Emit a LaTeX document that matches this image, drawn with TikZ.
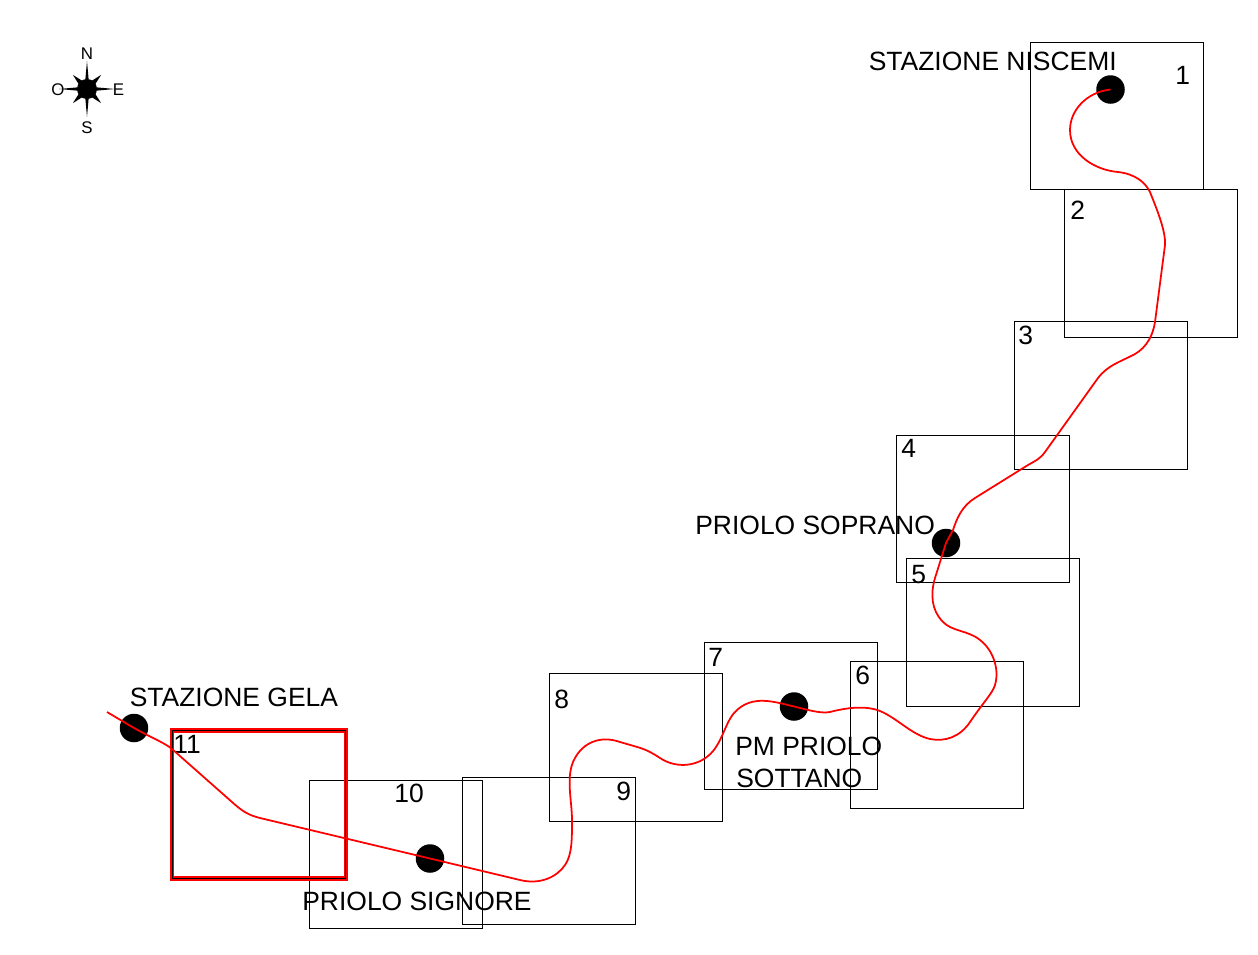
\documentclass[tikz,border=0pt]{standalone}
\usepackage{fontspec}
\setmainfont{Liberation Sans}

\begin{document}

\begin{tikzpicture}[
    x=0.02cm,y=-0.02cm,
    box/.style={draw,line width=0.55pt,anchor=north west,inner sep=0pt,outer sep=0pt,minimum width=3.47cm,minimum height=2.955cm},
    station/.style={circle,fill=black,inner sep=0pt,minimum size=0.57cm},
    tlabel/.style={anchor=base west,inner sep=0pt,font=\fontsize{15.05}{16}\selectfont},
    tnum/.style={tlabel},
    tcomp/.style={inner sep=0pt,font=\fontsize{9.6}{11}\selectfont},
    route/.style={draw=red,line width=1pt},
  ]

  \useasboundingbox (0,0) rectangle (1258,954);

  % sheets
  \foreach \n/\x/\y in {1/1030/42,2/1064/189.5,3/1014.5/321.5,4/896/435,5/906/558.5,6/850/661,7/704.5/642,8/549/673.5,9/462/777,10/309.5/780.5}
  {
    \node (b-\n) at (\x,\y) [box] {};
  }
  \node (b-11) at (172,730.5) [box,draw=red,line width=2.8pt,minimum width=3.48cm] {};
  \node (b-11i) at (172,730.5) [box,minimum width=3.48cm] {};

  % sheet numbers
  \foreach \n/\x/\y in {1/1175/84,2/1070/219,3/1018/344,4/901/457,5/911/583,6/855/684,7/708/666,8/554/708,9/616/800,10/394/802,11/173/753}
  {
    \node (n-\n) at (\x,\y) [tnum] {\n};
  }

  % stations
  \node (s-niscemi) at (1110.5,89.5) [station] {};
  \node (s-soprano) at (946,543) [station] {};
  \node (s-sottano) at (794,706.5) [station] {};
  \node (s-signore) at (430,858.5) [station] {};
  \node (s-gela) at (134,728) [station] {};

  \node (t-niscemi) at (868.5,70) [tlabel] {STAZIONE NISCEMI};
  \node (t-soprano) at (695,534) [tlabel] {PRIOLO SOPRANO};
  \node (t-sottano) at (735,755) [tlabel] {PM PRIOLO};
  \node (t-sottano2) at (736,787) [tlabel] {SOTTANO};
  \node (t-signore) at (302,910) [tlabel] {PRIOLO SIGNORE};
  \node (t-gela) at (129.5,706) [tlabel] {STAZIONE GELA};

  % pipeline
  \coordinate (r-end) at (107,712);
  \draw[route] (s-niscemi.center) .. controls (1087,92) and (1070,110) .. (1070,130)
    .. controls (1070,155) and (1095,170) .. (1118,172)
    .. controls (1135,174) and (1145,182) .. (1150,192)
    .. controls (1155,205) and (1166,230) .. (1165,245) -- (1155,322)
    .. controls (1153,335) and (1147,347) .. (1135,354)
    .. controls (1120,362) and (1108,365) .. (1098,378) -- (1045,452)
    .. controls (1040,459) and (1035,461) .. (1028,465) -- (975,498)
    .. controls (962,506) and (957,518) .. (953,530) -- (s-soprano.center) -- (935,578)
    .. controls (930,595) and (932,610) .. (942,621)
    .. controls (952,632) and (968,630) .. (980,640)
    .. controls (992,649) and (1000,668) .. (995,685)
    .. controls (992,694) and (985,700) .. (970,722)
    .. controls (960,737) and (945,742) .. (930,739)
    .. controls (912,735) and (897,718) .. (880,711)
    .. controls (865,705) and (845,708) .. (830,712)
    .. controls (820,714) and (805,709) .. (s-sottano.center)
    .. controls (775,702) and (752,694) .. (735,712)
    .. controls (725,722) and (722,745) .. (708,756)
    .. controls (695,767) and (675,768) .. (660,758)
    .. controls (645,748) and (640,748) .. (620,742)
    .. controls (600,735) and (583,743) .. (575,758)
    .. controls (565,775) and (572,800) .. (572,820)
    .. controls (572,840) and (572,855) .. (565,865)
    .. controls (557,877) and (540,885) .. (520,880) -- (s-signore.center) -- (260,818)
    .. controls (248,815) and (242,811) .. (232,802) -- (172,749)
    .. controls (165,743) and (152,738) .. (s-gela.center) -- (r-end);

  % compass
  \begin{scope}[shift={(87,89)}]
    \foreach \a in {0,90,180,270}
    {
      \fill[rotate=\a] (-2.5,0) -- (0,-28) -- (2.5,0) -- cycle;
    }
    \foreach \a in {45,135,225,315}
    {
      \fill[rotate=\a] (-4.5,0) -- (0,-20) -- (4.5,0) -- cycle;
    }
    \fill circle (10);
    \node (c-n) at (0,-35) [tcomp] {N};
    \node (c-s) at (0,38.5) [tcomp] {S};
    \node (c-e) at (31.5,0.5) [tcomp] {E};
    \node (c-o) at (-29,0.5) [tcomp] {O};
  \end{scope}

\end{tikzpicture}

\end{document}
